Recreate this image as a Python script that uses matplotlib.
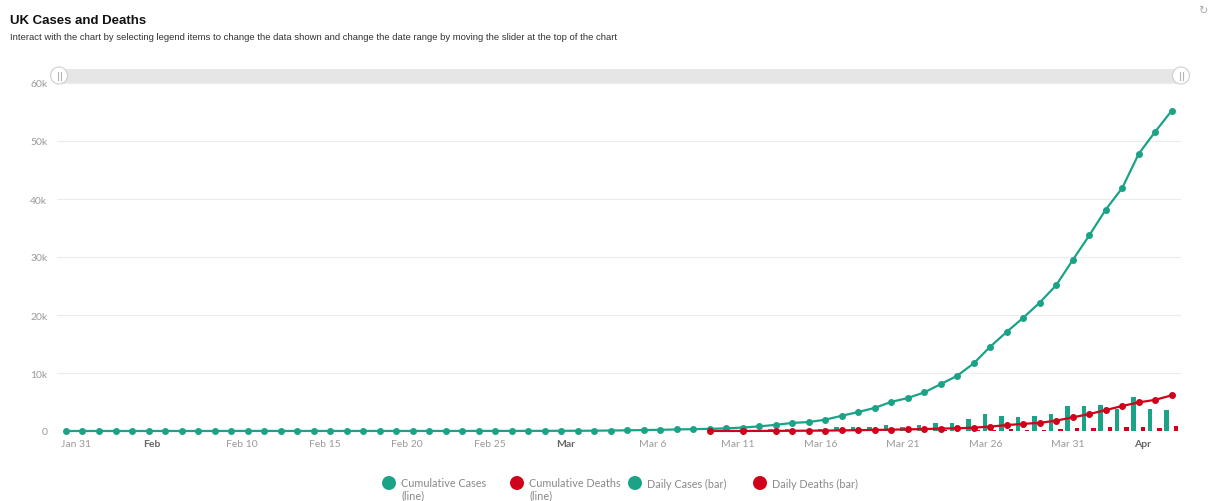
import matplotlib
matplotlib.use("Agg")
import matplotlib.pyplot as plt
import matplotlib.dates as mdates
from matplotlib.patches import Circle, FancyBboxPatch
import pandas as pd

# ---- data (UK, 31 Jan - 7 Apr 2020) ----
case_dates = pd.date_range("2020-01-31", "2020-04-07")
cumulative_cases = [
    2, 2, 2, 2, 2, 2, 3, 3, 3, 3, 8, 8, 9, 9, 9, 9, 9, 9, 9, 9,
    9, 9, 9, 9, 13, 13, 13, 15, 20, 23,
    36, 40, 51, 85, 115, 163, 206, 273, 321, 373, 456, 590, 797, 1061, 1391,
    1543, 1950, 2626, 3269, 3983, 5018, 5683, 6650, 8077, 9529, 11658, 14543,
    17089, 19522, 22141, 25150, 29474, 33718, 38168, 41903, 47806, 51608, 55242,
]

daily_case_dates = pd.date_range("2020-03-01", "2020-04-07")
daily_cases = [
    13, 4, 11, 34, 30, 48, 43, 67, 48, 52, 83, 134, 207, 264, 330, 152, 407,
    676, 643, 714, 1035, 665, 967, 1427, 1452, 2129, 2885, 2546, 2433, 2619,
    3009, 4324, 4244, 4450, 3735, 5903, 3802, 3634,
]

death_dates = pd.to_datetime(["2020-03-10", "2020-03-12"]).append(
    pd.date_range("2020-03-14", "2020-04-07"))
cumulative_deaths = [
    6, 8, 21, 35, 55, 71, 104, 144, 177, 233, 281, 335, 422, 465, 578, 759,
    1019, 1228, 1408, 1789, 2352, 2921, 3605, 4313, 4934, 5373, 6159,
]

daily_death_dates = pd.date_range("2020-03-14", "2020-04-07")
daily_deaths = [
    10, 14, 20, 16, 33, 40, 33, 56, 48, 54, 87, 43, 113, 181, 260, 209, 180,
    381, 563, 569, 684, 708, 621, 439, 786,
]

tick_dates = pd.to_datetime([
    "2020-01-31", "2020-02-05", "2020-02-10", "2020-02-15", "2020-02-20",
    "2020-02-25", "2020-03-01", "2020-03-06", "2020-03-11", "2020-03-16",
    "2020-03-21", "2020-03-26", "2020-03-31", "2020-04-05",
])
tick_labels = ["Jan 31", "Feb", "Feb 10", "Feb 15", "Feb 20", "Feb 25", "Mar",
               "Mar 6", "Mar 11", "Mar 16", "Mar 21", "Mar 26", "Mar 31", "Apr"]
month_labels = {"Feb", "Mar", "Apr"}

y_ticks = [0, 10000, 20000, 30000, 40000, 50000, 60000]
y_labels = ["0", "10k", "20k", "30k", "40k", "50k", "60k"]

TEAL = "#1ba388"
RED = "#d0021b"
GREY = "#9a9a9a"

W, H = 1208, 502
fig = plt.figure(figsize=(W / 100, H / 100), dpi=100)
fig.patch.set_facecolor("white")

# main plot area in pixel terms
left, right, top, bottom = 57, 1181, 84, 432
ax = fig.add_axes([left / W, (H - bottom) / H, (right - left) / W, (bottom - top) / H])

day = pd.Timedelta(days=1)
start = case_dates[0]
ax.set_xlim(start - 0.545 * day, start + 67.56 * day)
ax.set_ylim(0, 60000)

ax.bar(daily_case_dates - 0.32 * day, daily_cases, width=0.28, color=TEAL, zorder=2)
ax.bar(daily_death_dates + 0.25 * day, daily_deaths, width=0.26, color=RED, zorder=2)

ax.plot(case_dates, cumulative_cases, color=TEAL, lw=1.6, marker="o", ms=4.0,
        zorder=4, clip_on=False)
ax.plot(death_dates, cumulative_deaths, color=RED, lw=1.6, marker="o", ms=4.0,
        zorder=5, clip_on=False)

for s in ax.spines.values():
    s.set_visible(False)
ax.set_yticks(y_ticks)
ax.set_yticklabels(y_labels)
ax.grid(axis="y", color="#ececec", lw=0.8, zorder=0)
ax.tick_params(axis="y", length=0, pad=7, labelsize=7.5, labelcolor=GREY)

ax.set_xticks(tick_dates - 0.3 * day)
ax.set_xticklabels(tick_labels)
ax.tick_params(axis="x", length=0, pad=6, labelsize=7.5, labelcolor=GREY)
for lbl in ax.get_xticklabels():
    lbl.set_horizontalalignment("left")
    if lbl.get_text() in month_labels:
        lbl.set_fontweight("bold")
        lbl.set_color("#666666")
for lbl in ax.get_xticklabels() + ax.get_yticklabels():
    lbl.set_family(["Lato", "DejaVu Sans"])

# overlay in pixel coordinates for slider, legend and headings
ov = fig.add_axes([0, 0, 1, 1], zorder=10)
ov.set_xlim(0, W)
ov.set_ylim(H, 0)
ov.axis("off")
ov.patch.set_alpha(0)

ov.add_patch(FancyBboxPatch((58, 69.5), 1122, 14, boxstyle="square,pad=0",
                            fc="#e6e6e6", ec="none"))
for hx in (59, 1181):
    ov.add_patch(Circle((hx, 76.5), 8.5, fc="white", ec="#cfcfcf", lw=0.8))
    ov.plot([hx - 1.5, hx - 1.5], [72.5, 80.5], color="#b5b5b5", lw=0.8)
    ov.plot([hx + 1.5, hx + 1.5], [72.5, 80.5], color="#b5b5b5", lw=0.8)

ov.text(10, 24, "UK Cases and Deaths", fontsize=9.5, fontweight="bold",
        family="Liberation Sans", color="#111111", va="baseline")
ov.text(10, 39.5, "Interact with the chart by selecting legend items to change the data "
        "shown and change the date range by moving the slider at the top of the chart",
        fontsize=6.8, family="Liberation Sans", color="#333333", va="baseline")
ov.text(1203, 14, "\u21bb", fontsize=8, color="#aaaaaa", ha="center", va="baseline")

legend_items = [
    (389, TEAL, "Cumulative Cases\n(line)"),
    (517, RED, "Cumulative Deaths\n(line)"),
    (635, TEAL, "Daily Cases (bar)"),
    (760, RED, "Daily Deaths (bar)"),
]
for cx, col, txt in legend_items:
    ov.add_patch(Circle((cx, 484), 7, fc=col, ec="none"))
    ov.text(cx + 12, 478.5, txt, fontsize=7.8, family=["Lato", "DejaVu Sans"],
            color="#8a8a8a", va="top", ha="left", linespacing=1.08)

fig.savefig("out.png", dpi=100, facecolor="white")
